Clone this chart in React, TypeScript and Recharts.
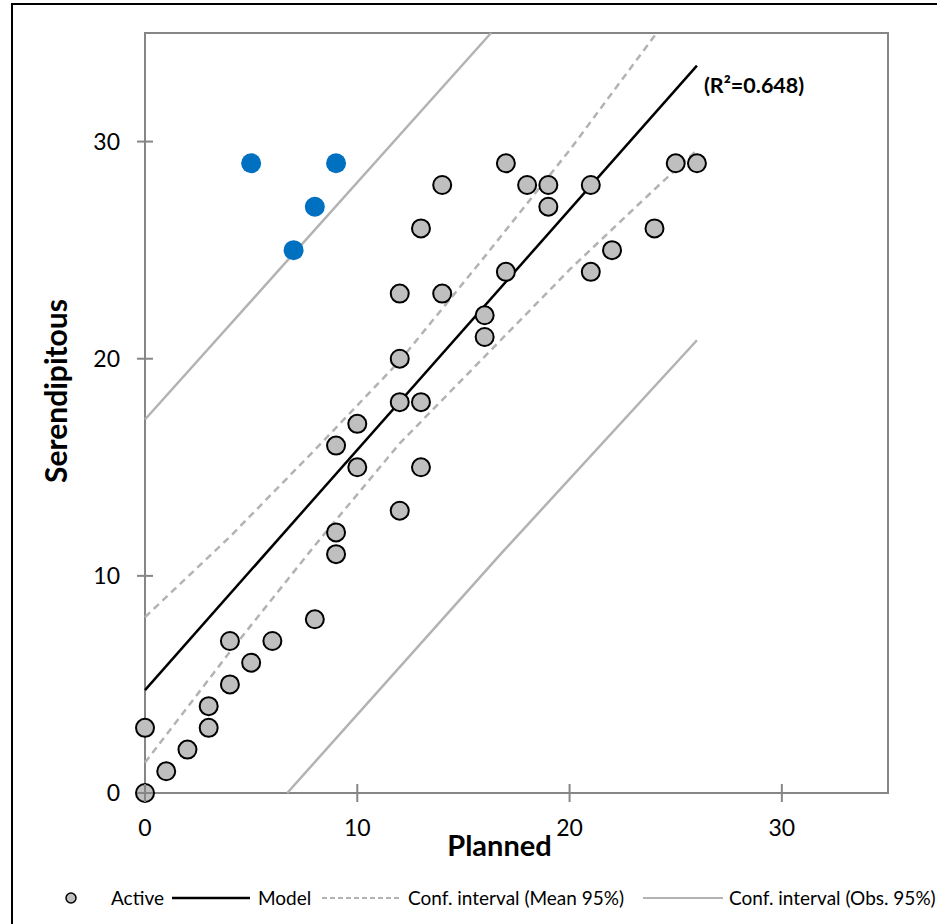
import { ScatterChart, Scatter, XAxis, YAxis, ReferenceArea, Label } from 'recharts'

// Active observations
const activePlanned = [0, 0, 1, 2, 3, 3, 4, 4, 5, 6, 8, 9, 9, 9, 10, 10, 12, 12, 12, 12, 13, 13, 13, 14, 14, 16, 16, 17, 17, 18, 19, 19, 21, 21, 22, 24, 25, 26]
const activeSerendipitous = [0, 3, 1, 2, 3, 4, 5, 7, 6, 7, 8, 11, 12, 16, 15, 17, 13, 18, 20, 23, 15, 18, 26, 23, 28, 21, 22, 24, 29, 28, 27, 28, 24, 28, 25, 26, 29, 29]

// outliers above the obs. interval (blue)
const outlierPlanned = [5, 7, 8, 9]
const outlierSerendipitous = [29, 25, 27, 29]

// regression line
const modelX = [0, 26]
const modelY = [4.74, 33.5]

// confidence interval of the mean (dashed)
const meanUpperX = [0, 4, 8, 12, 16, 20, 24.1]
const meanUpperY = [8.1, 11.8, 15.8, 19.9, 24.7, 29.6, 35]
const meanLowerX = [0, 4, 8, 12, 16, 20, 24, 26]
const meanLowerY = [1.4, 6.5, 11.4, 16.1, 20.1, 24.1, 27.8, 29.6]

// confidence interval of observations (solid gray)
const obsUpperX = [0, 16.3]
const obsUpperY = [17.2, 35]
const obsLowerX = [6.7, 16.75, 26]
const obsLowerY = [0, 11.0, 20.85]

const axisTicks = [0, 10, 20, 30]
const r2Text = '(R²=0.648)'

const zip = (xs: number[], ys: number[]) => xs.map((x, i) => ({ x, y: ys[i] }))

const FONT = 'Lato, "Open Sans", sans-serif'
const AXIS_COLOR = '#868686'
const CI_COLOR = '#b3b3b3'

const NoDot = () => <g />

const ActiveDot = (p: any) => (
  <circle cx={p.cx} cy={p.cy} r={9} fill="#bfbfbf" stroke="#000" strokeWidth={2} />
)
const OutlierDot = (p: any) => <circle cx={p.cx} cy={p.cy} r={10} fill="#0070c0" />

const R2Label = (p: any) => (
  <text x={p.cx + 7} y={p.cy + 27} fontFamily={FONT} fontWeight={700} fontSize={21.5} fill="#000">
    {r2Text}
  </text>
)

const XTick = (p: any) => (
  <g>
    <line x1={p.x} x2={p.x} y1={p.y - 9} y2={p.y + 9} stroke={AXIS_COLOR} strokeWidth={2} />
    <text x={p.x} y={p.y + 43} textAnchor="middle" fontFamily={FONT} fontSize={23} fill="#000">
      {p.payload.value}
    </text>
  </g>
)

const YTick = (p: any) => (
  <g>
    <line x1={p.x - 8} x2={p.x + 8} y1={p.y} y2={p.y} stroke={AXIS_COLOR} strokeWidth={2} />
    <text x={p.x - 25} y={p.y + 8} textAnchor="end" fontFamily={FONT} fontSize={23} fill="#000">
      {p.payload.value}
    </text>
  </g>
)

// the last entry runs off the right edge, as in the original export
const legendItems = [
  { label: 'Active', kind: 'dot', swatchLeft: 64, textLeft: 111 },
  { label: 'Model', kind: 'model', swatchLeft: 172, textLeft: 258 },
  { label: 'Conf. interval (Mean 95%)', kind: 'mean', swatchLeft: 322, textLeft: 408 },
  { label: 'Conf. interval (Obs. 95%)', kind: 'obs', swatchLeft: 643, textLeft: 729 },
]

function LegendSwatch({ kind }: { kind: string }) {
  if (kind === 'dot') {
    return (
      <svg width={14} height={14} style={{ display: 'block' }}>
        <circle cx={7} cy={7} r={5} fill="#bfbfbf" stroke="#000" strokeWidth={1.5} />
      </svg>
    )
  }
  const stroke = kind === 'model' ? '#000' : CI_COLOR
  const w = kind === 'model' ? 78 : 80
  return (
    <svg width={w} height={10} style={{ display: 'block' }}>
      <line
        x1={0}
        x2={w}
        y1={5}
        y2={5}
        stroke={stroke}
        strokeWidth={kind === 'model' ? 2.5 : 2}
        strokeDasharray={kind === 'mean' ? '5 3' : undefined}
      />
    </svg>
  )
}

export default function App() {
  return (
    <div style={{ position: 'fixed', left: 0, top: 0, width: 937, height: 924, background: '#fff', overflow: 'hidden' }}>
      <div
        style={{
          position: 'absolute',
          left: 11,
          top: 3,
          width: 926,
          height: 921,
          borderTop: '2px solid #000',
          borderLeft: '2px solid #000',
        }}
      />
      <div style={{ position: 'absolute', left: 0, top: 0 }}>
        <ScatterChart width={937} height={924} margin={{ top: 33, right: 49, bottom: 71, left: 85 }}>
          <XAxis
            type="number"
            dataKey="x"
            domain={[0, 35]}
            ticks={axisTicks}
            height={60}
            tickSize={0}
            tickMargin={0}
            tickLine={false}
            axisLine={{ stroke: AXIS_COLOR, strokeWidth: 2 }}
            tick={XTick}
          >
            <Label
              content={(p: any) => (
                <text
                  x={p.viewBox.x + p.viewBox.width / 2 - 17}
                  y={p.viewBox.y + 63}
                  textAnchor="middle"
                  fontFamily={FONT}
                  fontWeight={700}
                  fontSize={29}
                  fill="#000"
                >
                  Planned
                </text>
              )}
            />
          </XAxis>
          <YAxis
            type="number"
            dataKey="y"
            domain={[0, 35]}
            ticks={axisTicks}
            width={60}
            tickSize={0}
            tickMargin={0}
            tickLine={false}
            axisLine={{ stroke: AXIS_COLOR, strokeWidth: 2 }}
            tick={YTick}
          >
            <Label
              content={(p: any) => {
                const cx = 67
                const cy = p.viewBox.y + p.viewBox.height / 2 - 22
                return (
                  <text
                    x={cx}
                    y={cy}
                    transform={`rotate(-90 ${cx} ${cy})`}
                    textAnchor="middle"
                    fontFamily={FONT}
                    fontWeight={700}
                    fontSize={30}
                    fill="#000"
                  >
                    Serendipitous
                  </text>
                )
              }}
            />
          </YAxis>
          <ReferenceArea x1={0} x2={35} y1={0} y2={35} fill="none" stroke={AXIS_COLOR} strokeWidth={2} />

          <Scatter data={zip(obsUpperX, obsUpperY)} line={{ stroke: CI_COLOR, strokeWidth: 2.5 }} lineType="joint" shape={NoDot} isAnimationActive={false} />
          <Scatter data={zip(obsLowerX, obsLowerY)} line={{ stroke: CI_COLOR, strokeWidth: 2.5 }} lineType="joint" shape={NoDot} isAnimationActive={false} />
          <Scatter data={zip(meanUpperX, meanUpperY)} line={{ stroke: CI_COLOR, strokeWidth: 2.5, strokeDasharray: '7 5' }} lineType="joint" shape={NoDot} isAnimationActive={false} />
          <Scatter data={zip(meanLowerX, meanLowerY)} line={{ stroke: CI_COLOR, strokeWidth: 2.5, strokeDasharray: '7 5' }} lineType="joint" shape={NoDot} isAnimationActive={false} />
          <Scatter data={zip(modelX, modelY)} line={{ stroke: '#000', strokeWidth: 2.5 }} lineType="joint" shape={NoDot} isAnimationActive={false} />

          <Scatter data={zip(activePlanned, activeSerendipitous)} shape={ActiveDot} isAnimationActive={false} />
          <Scatter data={zip(outlierPlanned, outlierSerendipitous)} shape={OutlierDot} isAnimationActive={false} />
          <Scatter data={[{ x: modelX[1], y: modelY[1] }]} shape={R2Label} isAnimationActive={false} />
        </ScatterChart>
      </div>

      {/* legend row under the plot */}
      {legendItems.map((item) => (
        <div key={item.label}>
          <div style={{ position: 'absolute', left: item.swatchLeft, top: item.kind === 'dot' ? 891 : 893 }}>
            <LegendSwatch kind={item.kind} />
          </div>
          <div
            style={{
              position: 'absolute',
              left: item.textLeft,
              top: 885,
              whiteSpace: 'nowrap',
              fontFamily: FONT,
              fontSize: 19,
              lineHeight: '26px',
              color: '#000',
            }}
          >
            {item.label}
          </div>
        </div>
      ))}
    </div>
  )
}
